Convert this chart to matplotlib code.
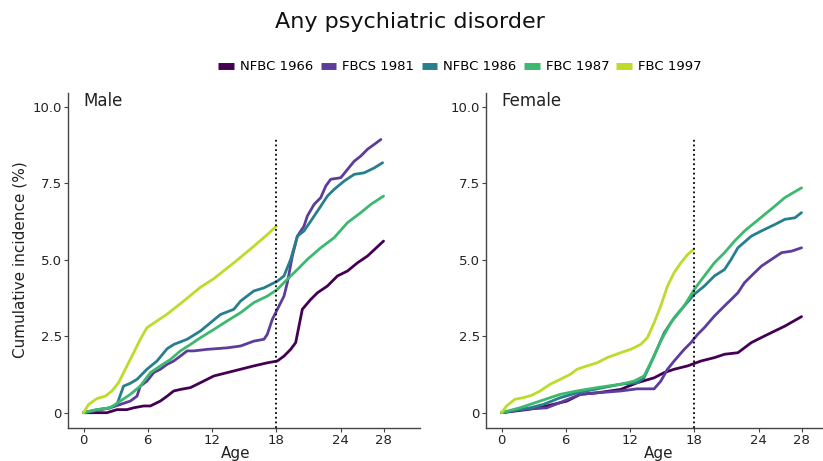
import matplotlib
matplotlib.use("Agg")
import matplotlib.pyplot as plt

cohorts = ["NFBC 1966", "FBCS 1981", "NFBC 1986", "FBC 1987", "FBC 1997"]
colors = ["#440154", "#5c3d9b", "#277f8e", "#3cb96f", "#bbdc2b"]
x_ticks = [0, 6, 12, 18, 24, 28]
y_ticks = [0, 2.5, 5, 7.5, 10]
y_tick_labels = ["0", "2.5", "5.0", "7.5", "10.0"]

# ---- Male ----
m_nfbc1966_age = [0, 2.18, 3.12, 4.05, 4.68, 5.61, 6.24, 7.17, 7.8, 8.42, 9.04, 9.98, 10.91, 12.16, 13.41,
                  14.66, 15.9, 17.15, 18.09, 18.71, 19.33, 19.8, 20.42, 21.2, 21.83, 22.76, 23.7, 24.63,
                  25.57, 26.5, 28.0]
m_nfbc1966_val = [0, 0, 0.1, 0.1, 0.16, 0.22, 0.22, 0.38, 0.54, 0.71, 0.76, 0.82, 0.98, 1.2, 1.31,
                  1.42, 1.53, 1.63, 1.69, 1.85, 2.07, 2.29, 3.38, 3.7, 3.92, 4.14, 4.47, 4.63,
                  4.9, 5.12, 5.61]
m_fbcs1981_age = [0, 0.94, 2.49, 3.43, 4.37, 4.99, 5.3, 5.92, 6.55, 7.17, 7.8, 8.42, 9.04, 9.67, 10.29,
                  11.54, 13.41, 14.66, 15.9, 16.84, 17.15, 17.62, 18.09, 18.71, 19.02, 19.49, 19.96,
                  20.58, 20.89, 21.52, 22.14, 22.61, 23.07, 24.01, 24.63, 25.26, 25.88, 26.5, 27.13, 27.75]
m_fbcs1981_val = [0, 0.05, 0.16, 0.27, 0.38, 0.54, 0.87, 1.03, 1.31, 1.42, 1.58, 1.69, 1.85, 2.02, 2.02,
                  2.07, 2.12, 2.18, 2.34, 2.4, 2.56, 3.05, 3.38, 3.81, 4.25, 5.12, 5.77,
                  6.1, 6.43, 6.81, 7.03, 7.41, 7.63, 7.68, 7.95, 8.22, 8.39, 8.61, 8.77, 8.93]
m_nfbc1986_age = [0, 1.25, 2.49, 3.12, 3.74, 4.37, 4.99, 5.92, 6.86, 7.8, 8.42, 9.67, 10.91, 11.85, 12.78,
                  14.03, 14.66, 15.9, 16.84, 17.46, 18.09, 18.71, 19.33, 19.96, 20.58, 21.2, 22.14,
                  22.76, 23.39, 24.32, 25.26, 26.19, 27.13, 27.91]
m_nfbc1986_val = [0, 0.1, 0.16, 0.27, 0.87, 0.96, 1.09, 1.42, 1.69, 2.09, 2.23, 2.4, 2.67, 2.94, 3.21,
                  3.38, 3.65, 3.98, 4.08, 4.19, 4.3, 4.47, 5.01, 5.77, 5.94, 6.26, 6.75,
                  7.08, 7.3, 7.57, 7.79, 7.84, 8.0, 8.17]
m_fbc1987_age = [0, 1.25, 2.49, 3.43, 4.37, 5.3, 6.24, 7.17, 8.11, 9.04, 9.98, 10.91, 12.16, 13.41, 14.66,
                 15.9, 17.15, 18.09, 19.02, 19.96, 20.89, 22.14, 23.39, 24.63, 25.88, 26.82, 28.0]
m_fbc1987_val = [0, 0.1, 0.16, 0.38, 0.6, 0.87, 1.31, 1.53, 1.74, 2.02, 2.23, 2.45, 2.72, 3.0, 3.27,
                 3.6, 3.81, 4.03, 4.36, 4.68, 5.01, 5.39, 5.72, 6.21, 6.54, 6.81, 7.08]
m_fbc1997_age = [0, 0.47, 1.25, 2.03, 2.65, 3.27, 3.9, 4.68, 5.3, 5.92, 6.86, 7.8, 9.35, 10.91, 12.16,
                 14.03, 15.59, 17.15, 18.0]
m_fbc1997_val = [0, 0.27, 0.46, 0.54, 0.71, 0.98, 1.42, 1.96, 2.4, 2.78, 3.0, 3.22, 3.65, 4.1, 4.38,
                 4.9, 5.35, 5.82, 6.1]

# ---- Female ----
f_nfbc1966_age = [0, 2.35, 4.22, 6.1, 7.35, 8.92, 11.11, 12.67, 14.24, 15.18, 16.11, 17.37, 18.62, 19.87,
                  20.81, 22.06, 23.31, 24.56, 25.5, 26.44, 28.0]
f_nfbc1966_val = [0, 0.1, 0.22, 0.38, 0.6, 0.65, 0.76, 0.98, 1.14, 1.31, 1.42, 1.53, 1.69, 1.8,
                  1.91, 1.96, 2.29, 2.51, 2.67, 2.83, 3.14]
f_fbcs1981_age = [0, 1.72, 4.22, 5.48, 7.35, 8.92, 11.11, 12.67, 14.24, 14.86, 15.49, 16.11, 17.05, 17.68,
                  18.3, 18.93, 19.87, 20.81, 21.43, 22.06, 22.68, 23.31, 24.25, 25.19, 26.13, 27.07, 28.0]
f_fbcs1981_val = [0, 0.1, 0.16, 0.33, 0.6, 0.65, 0.71, 0.78, 0.78, 1.03, 1.42, 1.69, 2.07, 2.29,
                  2.56, 2.78, 3.16, 3.49, 3.7, 3.92, 4.25, 4.47, 4.79, 5.01, 5.23, 5.28, 5.39]
f_nfbc1986_age = [0, 2.66, 3.91, 5.48, 7.04, 8.92, 11.11, 12.67, 13.3, 14.24, 15.18, 16.11, 17.05, 17.99,
                  18.93, 19.87, 20.81, 21.43, 22.06, 23.31, 24.25, 25.5, 26.44, 27.38, 28.0]
f_nfbc1986_val = [0, 0.16, 0.27, 0.49, 0.65, 0.78, 0.93, 0.98, 1.14, 1.85, 2.61, 3.1, 3.49, 3.87,
                  4.14, 4.47, 4.68, 5.01, 5.39, 5.77, 5.94, 6.15, 6.32, 6.37, 6.54]
f_fbc1987_age = [0, 1.72, 3.6, 5.48, 7.04, 8.92, 11.11, 12.36, 13.3, 13.92, 14.86, 15.8, 17.05, 17.99,
                 18.93, 19.87, 20.81, 21.75, 22.68, 23.62, 24.56, 25.5, 26.44, 28.0]
f_fbc1987_val = [0, 0.16, 0.38, 0.6, 0.71, 0.82, 0.93, 1.03, 1.2, 1.63, 2.34, 2.94, 3.49, 4.03,
                 4.47, 4.9, 5.23, 5.61, 5.94, 6.21, 6.48, 6.75, 7.03, 7.35]
f_fbc1997_age = [0, 0.47, 1.25, 2.03, 2.82, 3.6, 4.54, 5.48, 6.41, 7.04, 7.98, 8.92, 9.86, 11.11, 12.05,
                 12.98, 13.61, 14.24, 14.86, 15.49, 16.11, 16.74, 17.37, 17.93]
f_fbc1997_val = [0, 0.22, 0.44, 0.49, 0.57, 0.71, 0.93, 1.09, 1.25, 1.42, 1.53, 1.63, 1.8, 1.96, 2.07,
                 2.23, 2.45, 2.94, 3.49, 4.14, 4.58, 4.9, 5.17, 5.34]

male = [(m_nfbc1966_age, m_nfbc1966_val), (m_fbcs1981_age, m_fbcs1981_val),
        (m_nfbc1986_age, m_nfbc1986_val), (m_fbc1987_age, m_fbc1987_val),
        (m_fbc1997_age, m_fbc1997_val)]
female = [(f_nfbc1966_age, f_nfbc1966_val), (f_fbcs1981_age, f_fbcs1981_val),
          (f_nfbc1986_age, f_nfbc1986_val), (f_fbc1987_age, f_fbc1987_val),
          (f_fbc1997_age, f_fbc1997_val)]

plt.rcParams['font.family'] = ['DejaVu Sans']
fig = plt.figure(figsize=(8.23, 4.61), dpi=100)
axL = fig.add_axes([0.0826, 0.0716, 0.4277, 0.7267])
axR = fig.add_axes([0.5905, 0.0716, 0.4277, 0.7267])

handles = []
for ax, data, label in [(axL, male, "Male"), (axR, female, "Female")]:
    for (a, v), c, name in zip(data, colors, cohorts):
        h, = ax.plot(a, v, color=c, lw=2.0, solid_capstyle='round', solid_joinstyle='round')
        if ax is axL:
            handles.append(h)
    ax.plot([18, 18], [-0.5, 9.0], color='black', lw=1.3, linestyle=(0, (1, 1.6)))
    ax.set_xlim(-1.45, 31.4)
    ax.set_ylim(-0.5, 10.45)
    ax.set_xticks(x_ticks)
    ax.set_xticklabels([str(t) for t in x_ticks])
    ax.set_yticks(y_ticks)
    ax.set_yticklabels(y_tick_labels)
    for s in ['top', 'right']:
        ax.spines[s].set_visible(False)
    for s in ['left', 'bottom']:
        ax.spines[s].set_color('#444444')
        ax.spines[s].set_linewidth(1.0)
    ax.tick_params(axis='both', length=3, width=0.8, color='#444444', labelsize=9.5,
                   labelcolor='#222222', pad=1.5)
    ax.text(0, 10.2, label, fontsize=12, ha='left', va='center', color='#222222')

fig.text(410 / 823, 1 - 22 / 461, "Any psychiatric disorder", fontsize=16, ha='center', va='center',
         color='#111111')
fig.text(20 / 823, 1 - 260 / 461, "Cumulative incidence (%)", fontsize=11, rotation=90,
         ha='center', va='center', color='#222222')
fig.text(236 / 823, 1 - 453 / 461, "Age", fontsize=11, ha='center', va='center', color='#222222')
fig.text(659 / 823, 1 - 453 / 461, "Age", fontsize=11, ha='center', va='center', color='#222222')

leg = fig.legend(handles, cohorts, loc='center', bbox_to_anchor=(0.559, 1 - 67 / 461), ncol=5,
                 frameon=False, fontsize=9.5, handlelength=1.2, handletextpad=0.45, columnspacing=0.55)
for lh in leg.get_lines():
    lh.set_linewidth(5)
    lh.set_solid_capstyle('butt')

fig.savefig("out.png", dpi=100)
